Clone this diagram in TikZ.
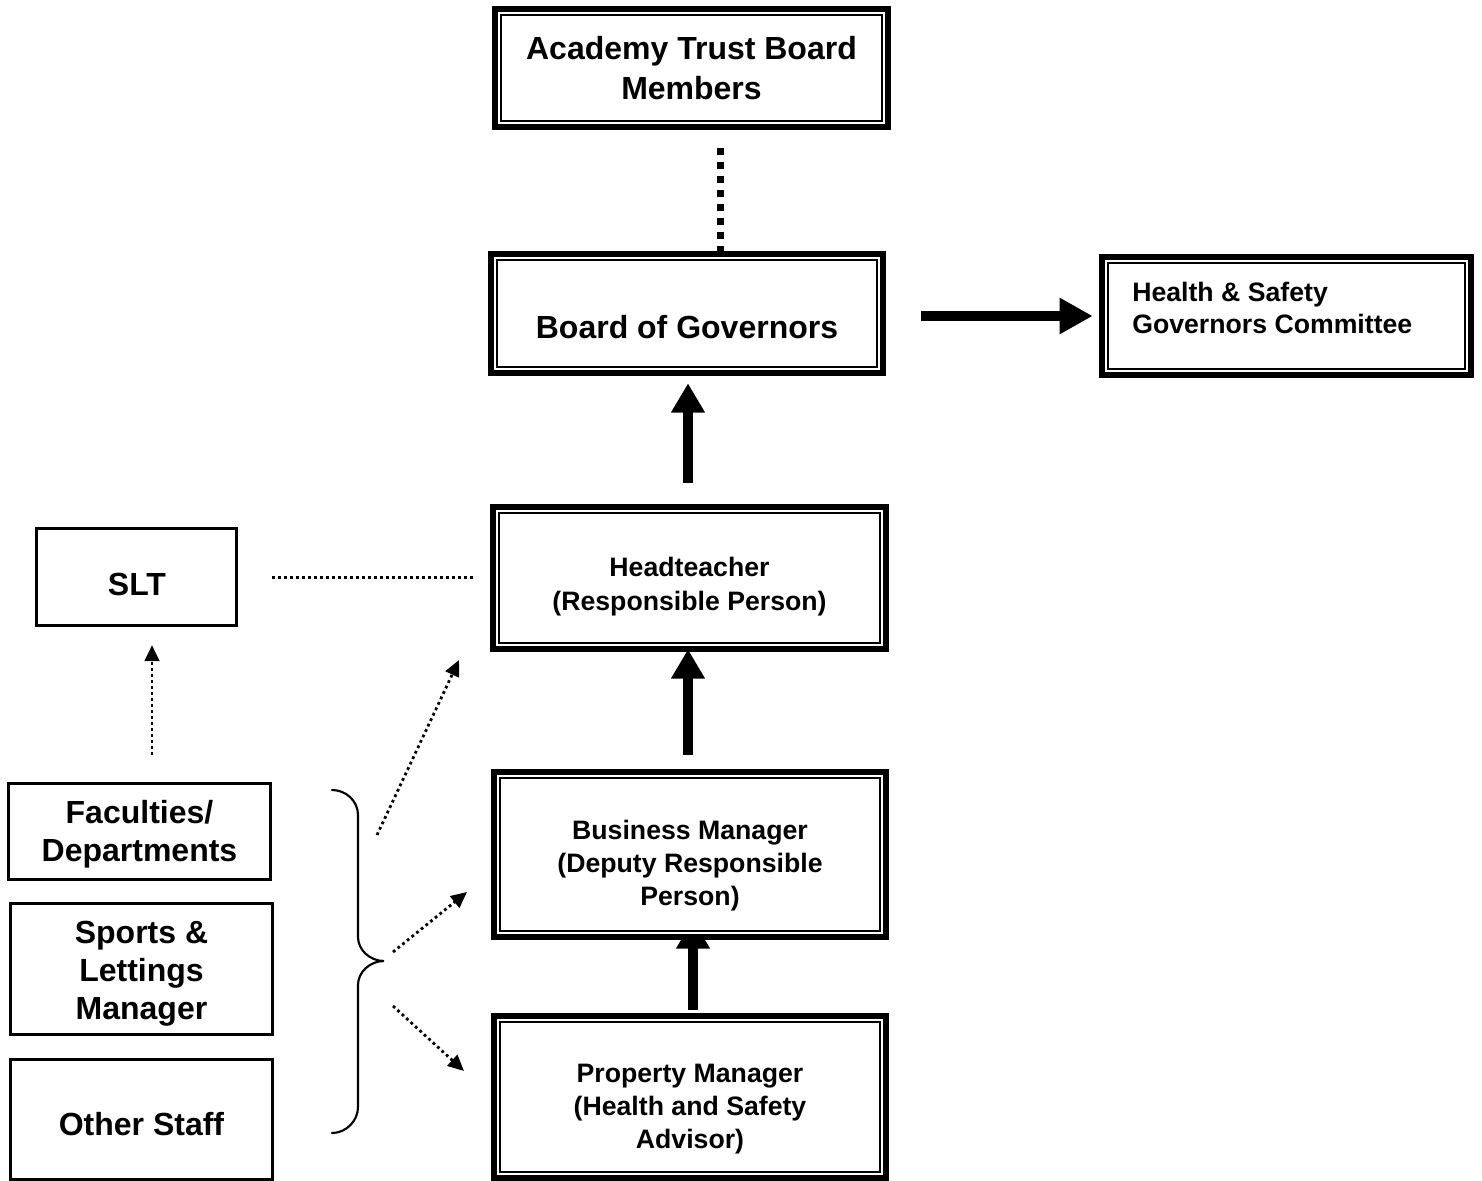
\documentclass[tikz,border=0pt]{standalone}
\usepackage{fontspec}
\setmainfont{Liberation Sans}
\usetikzlibrary{arrows.meta,calc}
\begin{document}
\begin{tikzpicture}[x=0.75pt,y=-0.75pt,
  bigtext/.style={font=\fontsize{24}{28.5}\selectfont\bfseries, inner sep=0pt, align=center},
  smalltext/.style={font=\fontsize{20}{24.5}\selectfont\bfseries, inner sep=0pt, align=center},
  dblbox/.style={draw, fill=white, line width=4.5pt, inner sep=0pt,
    path picture={\draw[line width=1.5pt]
      ([shift={(4.5pt,-4.5pt)}]path picture bounding box.north west) rectangle
      ([shift={(-4.5pt,4.5pt)}]path picture bounding box.south east);}},
  sbox/.style={draw, fill=white, line width=2.25pt, inner sep=0pt},
  fatarrow/.style={line width=7.5pt, -{Triangle[length=22pt,width=24pt]}},
  fatarrowh/.style={line width=7.5pt, -{Triangle[length=24.75pt,width=25.5pt]}},
  thickdot/.style={line width=5.25pt, dash pattern=on 5.25pt off 5.25pt},
  dotline/.style={line width=2.25pt, dash pattern=on 2.25pt off 2.25pt},
  dotarrow/.style={line width=2.1pt, dash pattern=on 2.1pt off 2.4pt, -{Triangle[length=12pt,width=11pt]}},
  bracestyle/.style={line width=1.6pt, line cap=round}
]
\useasboundingbox (0,0) rectangle (1482,1181);

% box outlines used as anchors for the connectors (drawn first, boxes cover their ends)
\coordinate (atbc) at (691.5,68);
\coordinate (bogc) at (687,313.5);
\coordinate (hsc) at (1286.5,316);
\coordinate (hdc) at (689.5,578);
\coordinate (bmc) at (690,854.5);
\coordinate (pmc) at (690,1097);
\path (atbc) node[minimum width=294.75pt, minimum height=88.5pt, inner sep=0pt] (atbg) {};
\path (bogc) node[minimum width=294pt, minimum height=89.25pt, inner sep=0pt] (bogg) {};
\path (hsc) node[minimum width=276.75pt, minimum height=88.5pt, inner sep=0pt] (hsg) {};
\path (hdc) node[minimum width=294.75pt, minimum height=106.5pt, inner sep=0pt] (hdg) {};
\path (bmc) node[minimum width=294pt, minimum height=123.75pt, inner sep=0pt] (bmg) {};
\path (pmc) node[minimum width=294pt, minimum height=121.5pt, inner sep=0pt] (pmg) {};
\path (136.5,577) node[minimum width=150pt, minimum height=72.75pt, inner sep=0pt] (sltg) {};
\path (139.5,831.5) node[minimum width=196.5pt, minimum height=72pt, inner sep=0pt] (facg) {};

\coordinate (d1) at ($(atbg.south)+(28.5,21)$);
\draw[thickdot] (d1) -- (d1 |- bogg.north);

\coordinate (a1) at ($(bogg.east |- hsg.west)+(38,0)$);
\draw[fatarrowh, shorten >=6.75pt] (a1) -- (hsg.west);

\coordinate (a2) at ($(hdg.north)+(-1.5,-24)$);
\draw[fatarrow, shorten >=7.5pt] (a2) -- (a2 |- bogg.south);

\coordinate (a3) at ($(bmg.north)+(-2,-17)$);
\draw[fatarrow] (a3) -- (a3 |- hdg.south);

\coordinate (a4) at ($(pmg.north)+(3,-6)$);
\draw[fatarrow, shorten >=-13.5pt] (a4) -- (a4 |- bmg.south);

\draw[dotline, shorten <=26.6pt, shorten >=15pt] (sltg.east) -- (sltg.east -| hdg.west);

\coordinate (s1) at ($(facg.north)+(12.5,-28.5)$);
\draw[dotarrow, shorten >=14.6pt] (s1) -- (s1 |- sltg.south);

\coordinate (b1) at (377,835);
\coordinate (b1e) at (459,660);
\coordinate (b2) at (393,952);
\coordinate (b2e) at (467,892);
\coordinate (b3) at (393,1006);
\coordinate (b3e) at (464,1071);
\draw[dotarrow] (b1) -- (b1e);
\draw[dotarrow] (b2) -- (b2e);
\draw[dotarrow] (b3) -- (b3e);

% brace
\draw[bracestyle] (332,790) .. controls (346,790) and (358,801) .. (358,815)
  -- (358,937) .. controls (358,950) and (370,961) .. (384,961)
  .. controls (370,961) and (358,972) .. (358,985)
  -- (358,1107) .. controls (358,1121) and (346,1133) .. (332,1133);

% ---------- boxes ----------
\node[dblbox, bigtext, minimum width=294.75pt, minimum height=88.5pt] (atb) at (atbc) {Academy Trust Board\\[1.5pt]Members};
\node[dblbox, minimum width=294pt, minimum height=89.25pt] (bog) at (bogc) {};
\node[bigtext] (bogt) at (687,327) {Board of Governors};
\node[dblbox, minimum width=276.75pt, minimum height=88.5pt] (hs) at (hsc) {};
\node[smalltext, anchor=west, align=left] (hst) at (1132,308) {Health \& Safety\\Governors Committee};
\node[dblbox, minimum width=294.75pt, minimum height=106.5pt] (hd) at (hdc) {};
\node[smalltext] (hdt) at (689.5,587) {Headteacher\\[1pt](Responsible Person)};
\node[dblbox, minimum width=294pt, minimum height=123.75pt] (bm) at (bmc) {};
\node[smalltext] (bmt) at (690,865.5) {Business Manager\\(Deputy Responsible\\Person)};
\node[dblbox, minimum width=294pt, minimum height=121.5pt] (pm) at (pmc) {};
\node[smalltext] (pmt) at (690,1109) {Property Manager\\(Health and Safety\\Advisor)};

\node[sbox, minimum width=150pt, minimum height=72.75pt] (slt) at (136.5,577) {};
\node[bigtext] (sltt) at (137,584) {SLT};
\node[sbox, minimum width=196.5pt, minimum height=72pt] (fac) at (139.5,831.5) {};
\node[bigtext] (fact) at (139.5,834.5) {Faculties/\\Departments};
\node[sbox, minimum width=196.5pt, minimum height=98.25pt] (spm) at (141.5,969) {};
\node[bigtext] (spmt) at (141.5,974) {Sports \&\\Lettings\\Manager};
\node[sbox, minimum width=196.5pt, minimum height=90pt] (oth) at (141.5,1119.5) {};
\node[bigtext] (otht) at (141.5,1124.5) {Other Staff};
\end{tikzpicture}
\end{document}
